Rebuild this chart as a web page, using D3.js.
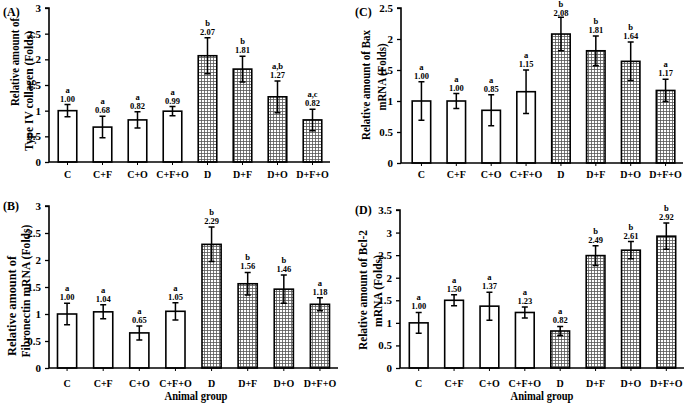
<!DOCTYPE html>
<html><head><meta charset="utf-8">
<script src="https://cdn.jsdelivr.net/npm/d3@7"></script>
<style>
body{margin:0;background:#fff;}
svg{display:block;}
text{font-family:"Liberation Serif","Times New Roman",serif;font-weight:bold;fill:#000;}
</style></head>
<body>
<svg id="c" width="685" height="404"></svg>
<script>
const categories = ["C","C+F","C+O","C+F+O","D","D+F","D+O","D+F+O"];

const valuesA = [1.00,0.68,0.82,0.99,2.07,1.81,1.27,0.82];
const errorsA = [0.12,0.21,0.16,0.09,0.35,0.25,0.31,0.21];
const lettersA = ["a","a","a","a","b","b","a,b","a,c"];
const ticksA = [0,0.5,1,1.5,2,2.5,3];

const valuesB = [1.00,1.04,0.65,1.05,2.29,1.56,1.46,1.18];
const errorsB = [0.20,0.13,0.13,0.16,0.32,0.21,0.26,0.12];
const lettersB = ["a","a","a","a","b","b","b","a"];
const ticksB = [0,0.5,1,1.5,2,2.5,3];

const valuesC = [1.00,1.00,0.85,1.15,2.08,1.81,1.64,1.17];
const errorsC = [0.31,0.12,0.25,0.35,0.27,0.24,0.31,0.18];
const lettersC = ["a","a","a","a","b","b","b","a"];
const ticksC = [0,0.5,1,1.5,2,2.5];

const valuesD = [1.00,1.50,1.37,1.23,0.82,2.49,2.61,2.92];
const errorsD = [0.23,0.12,0.31,0.12,0.10,0.22,0.19,0.29];
const lettersD = ["a","a","a","a","a","b","b","b"];
const ticksD = [0,0.5,1,1.5,2,2.5,3,3.5];

const hatched = [false,false,false,false,true,true,true,true];

const svg = d3.select("#c");
const defs = svg.append("defs");
const pat = defs.append("pattern").attr("id","grid").attr("patternUnits","userSpaceOnUse")
  .attr("width",3).attr("height",3);
pat.append("rect").attr("width",3).attr("height",3).attr("fill","#fff");
pat.append("path").attr("d","M0,0.5H3M0.5,0V3").attr("stroke","#555").attr("stroke-width",0.8);

const panels = [
  {id:"(A)", vals:valuesA, errs:errorsA, letters:lettersA, ticks:ticksA, ymax:3,
   x0:50, x1:330, y0:162, y1:8, axisX:49,
   title:["Relative amount of","Type IV collagen (Folds)"], tx:[14,28], ty:[62,91], tl:[88,120],
   lab:[3,16], xlabY:174, xtitle:null},
  {id:"(B)", vals:valuesB, errs:errorsB, letters:lettersB, ticks:ticksB, ymax:3,
   x0:49, x1:338, y0:368, y1:206, axisX:49,
   title:["Relative amount of","Fibronectin mRNA (Folds)"], tx:[11,25], ty:[306,291], tl:[100,133],
   lab:[3,210], xlabY:383, xtitle:[196,400]},
  {id:"(C)", vals:valuesC, errs:errorsC, letters:lettersC, ticks:ticksC, ymax:2.5,
   x0:404, x1:683, y0:163, y1:8, axisX:401,
   title:["Relative amount of Bax","mRNA (Folds)"], tx:[365,381], ty:[85,77], tl:[110,67],
   lab:[355,16], xlabY:174, xtitle:null},
  {id:"(D)", vals:valuesD, errs:errorsD, letters:lettersD, ticks:ticksD, ymax:3.5,
   x0:401, x1:684, y0:368, y1:210, axisX:400,
   title:["Relative amount of Bcl-2","mRNA (Folds)"], tx:[362,377], ty:[290,291], tl:[120,72],
   lab:[355,214], xlabY:383, xtitle:[542,400]}
];

panels.forEach(p => {
  const g = svg.append("g");
  const x = d3.scaleBand().domain(categories).range([p.x0,p.x1]).paddingInner(0.47).paddingOuter(0.235);
  const y = d3.scaleLinear().domain([0,p.ymax]).range([p.y0,p.y1]);

  g.selectAll("rect.bar").data(categories).join("rect")
    .attr("x",d=>x(d)).attr("width",x.bandwidth())
    .attr("y",(d,i)=>y(p.vals[i])).attr("height",(d,i)=>y(0)-y(p.vals[i]))
    .attr("fill",(d,i)=>hatched[i]?"url(#grid)":"#fff")
    .attr("stroke","#000").attr("stroke-width",1.6);

  categories.forEach((d,i)=>{
    const cx = x(d)+x.bandwidth()/2;
    const top = y(p.vals[i]+p.errs[i]), bot = y(p.vals[i]-p.errs[i]);
    g.append("path").attr("d",`M${cx},${top}V${bot}M${cx-3},${top}H${cx+3}M${cx-3},${bot}H${cx+3}`)
      .attr("stroke","#000").attr("stroke-width",1.5).attr("fill","none");
    const vy = Math.max(top-3, 15.5);
    g.append("text").attr("x",cx).attr("y",vy).attr("text-anchor","middle")
      .attr("font-size",8.5).text(p.vals[i].toFixed(2));
    g.append("text").attr("x",cx).attr("y",vy-9).attr("text-anchor","middle")
      .attr("font-size",8.5).text(p.letters[i]);
  });

  const ya = d3.axisLeft(y).tickValues(p.ticks).tickFormat(d=>String(d)).tickSize(4).tickPadding(4);
  const yg = g.append("g").attr("transform",`translate(${p.axisX},0)`).call(ya);
  yg.select(".domain").attr("d",`M-4,${y(p.ymax)}H0V${y(0)}`).attr("stroke-width",1.6);
  yg.selectAll(".tick line").attr("stroke-width",1.3);
  yg.selectAll("text").attr("font-size",11).attr("font-family","Liberation Serif").attr("font-weight","bold");

  const xa = d3.axisBottom(x).tickSize(3).tickPadding(8);
  const xg = g.append("g").attr("transform",`translate(0,${p.y0})`).call(xa);
  xg.select(".domain").attr("d",`M${p.axisX},0H${p.x1}`).attr("stroke-width",1.6);
  xg.selectAll(".tick line").attr("stroke-width",1);
  xg.selectAll("text").attr("font-size",10).attr("font-family","Liberation Serif").attr("font-weight","bold")
    .attr("dy",null);
  xg.selectAll(".tick text").attr("y",p.xlabY-p.y0+4);

  p.title.forEach((t,k)=>{
    g.append("text").attr("transform",`translate(${p.tx[k]+4.5},${p.ty[k]}) rotate(-90)`)
      .attr("text-anchor","middle").attr("font-size",13)
      .attr("textLength",p.tl[k]).attr("lengthAdjust","spacingAndGlyphs").text(t);
  });

  g.append("text").attr("x",p.lab[0]).attr("y",p.lab[1]).attr("font-size",12).text(p.id);

  if (p.xtitle) {
    g.append("text").attr("x",p.xtitle[0]).attr("y",p.xtitle[1]).attr("text-anchor","middle")
      .attr("font-size",12.5).attr("textLength",63).attr("lengthAdjust","spacingAndGlyphs").text("Animal group");
  }
});
</script>
</body></html>
